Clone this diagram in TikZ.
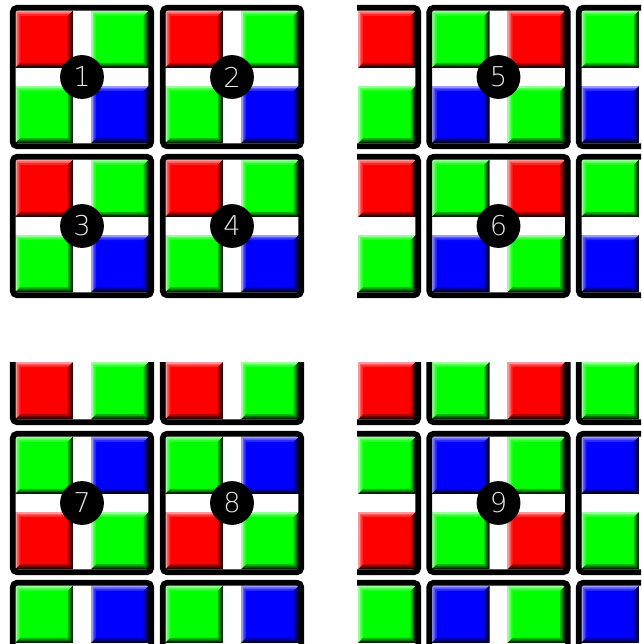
\documentclass[tikz,border=0pt]{standalone}
\usepackage{fontspec}
\setmainfont{DejaVu Sans ExtraLight}
\usepackage{xcolor}
\definecolor{rd}{HTML}{FF0000}
\definecolor{gn}{HTML}{00FF00}
\definecolor{bl}{HTML}{0000FF}
\definecolor{digit}{HTML}{E8E8E8}
\tikzset{
  cellframe/.style={draw=black, line width=3.2pt, rounded corners=2.5pt},
  badge/.style={circle, fill=black, text=digit, minimum size=44*0.567pt, inner sep=0pt, font=\fontsize{15.5}{16}\selectfont}
}
\def\tileW{57.5}
\def\tileH{57}
\def\gapH{9.2}
% one bevelled square, from its top left corner
\newcommand{\tile}[3]{
  \fill[#3] (#1,#2) rectangle ++(\tileW,\tileH);
  \foreach \bw/\lt/\dk in {5/85/70, 3.2/65/45, 1.6/40/15} {
    \fill[#3!\lt!white] (#1,#2) -- ++(\tileW,0) -- ++(-\bw,\bw) -- ++(-\tileW+2*\bw,0)
      -- ++(0,\tileH-2*\bw) -- ++(-\bw,\bw) -- cycle;
    \fill[#3!\dk!black] (#1+\tileW,#2+\tileH) -- ++(-\tileW,0) -- ++(\bw,-\bw) -- ++(\tileW-2*\bw,0)
      -- ++(0,-\tileH+2*\bw) -- ++(\bw,-\bw) -- cycle;
  }
}
% frame with four squares: centre x, centre y, then the colours
\newcommand{\pixcell}[6]{
  \pgfmathsetmacro{\xl}{#1-\gapH-\tileW}
  \pgfmathsetmacro{\xr}{#1+\gapH}
  \pgfmathsetmacro{\yt}{#2-\gapH-\tileH}
  \pgfmathsetmacro{\yb}{#2+\gapH}
  \tile{\xl}{\yt}{#3}
  \tile{\xr}{\yt}{#4}
  \tile{\xl}{\yb}{#5}
  \tile{\xr}{\yb}{#6}
  \draw[cellframe] (#1-69.3,#2-69.3) rectangle (#1+69.3,#2+69.3);
}
\begin{document}
\begin{tikzpicture}[x=0.02cm, y=-0.02cm]
  \useasboundingbox (0,0) rectangle (641,644);
  % top left
  \foreach \cx in {82,232} {
    \foreach \cy in {77,226} {
      \pixcell{\cx}{\cy}{rd}{gn}{gn}{bl}
    }
  }
  % top right
  \begin{scope}
    \clip (357,0) rectangle (641,310);
    \foreach \cx in {349,498.5,648} {
      \foreach \cy in {77,226} {
        \pixcell{\cx}{\cy}{gn}{rd}{bl}{gn}
      }
    }
  \end{scope}
  % bottom left
  \begin{scope}
    \clip (0,362) rectangle (320,644);
    \foreach \cx in {82,232} {
      \foreach \cy in {353,503,652} {
        \pixcell{\cx}{\cy}{gn}{bl}{rd}{gn}
      }
    }
  \end{scope}
  % bottom right
  \begin{scope}
    \clip (357,362) rectangle (641,644);
    \foreach \cx in {349,498.5,648} {
      \foreach \cy in {353,503,652} {
        \pixcell{\cx}{\cy}{bl}{gn}{gn}{rd}
      }
    }
  \end{scope}
  \foreach \cx/\cy/\lab in {82/77/1, 232/77/2, 82/226/3, 232/226/4, 498.5/77/5, 498.5/226/6, 82/503/7, 232/503/8, 498.5/503/9} {
    \node[badge] (n\lab) at (\cx,\cy) {\lab};
  }
\end{tikzpicture}
\end{document}
